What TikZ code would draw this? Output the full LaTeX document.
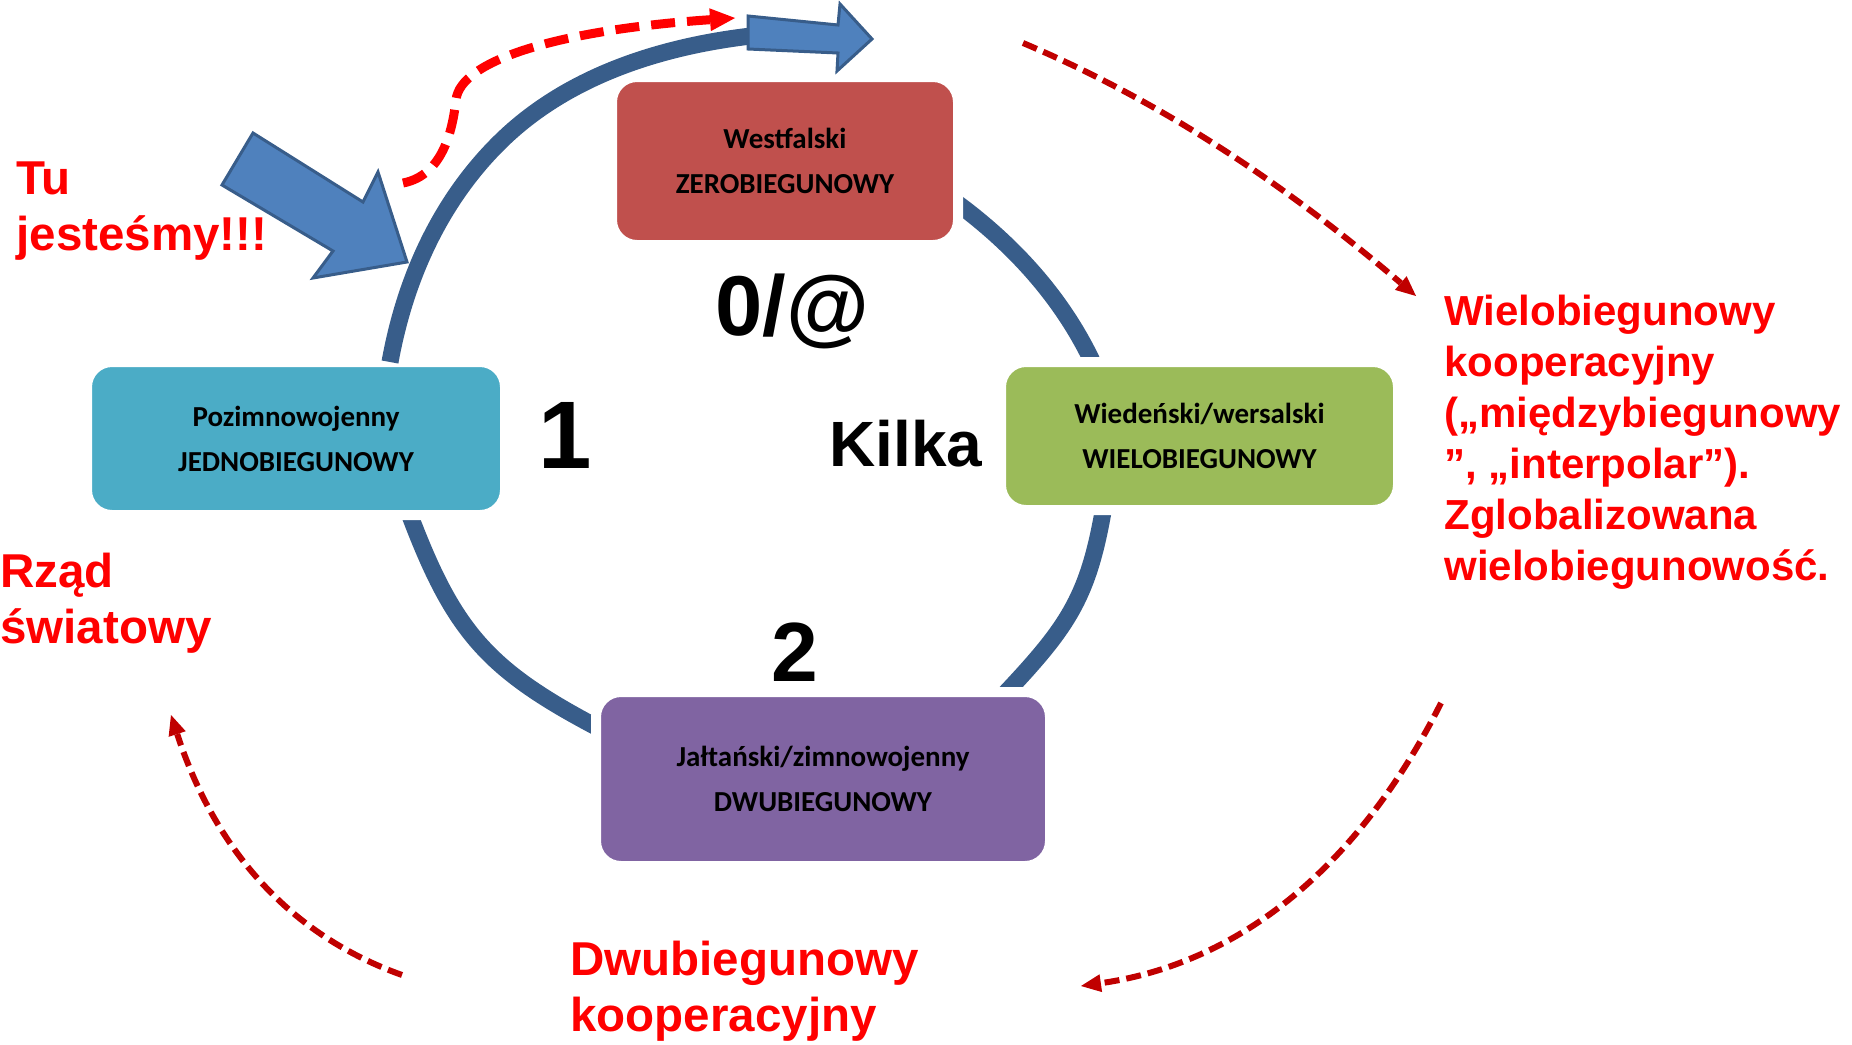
\documentclass[tikz,border=0pt]{standalone}
\usepackage{fontspec}
\setmainfont{Liberation Sans}
\newfontfamily\boxfont{Carlito}
\usetikzlibrary{arrows.meta}
\definecolor{arcblue}{RGB}{56,93,138}
\definecolor{arrowblue}{RGB}{79,129,189}
\definecolor{westred}{RGB}{192,80,77}
\definecolor{wiedgreen}{RGB}{155,187,89}
\definecolor{jaltapurple}{RGB}{128,100,162}
\definecolor{pozimcyan}{RGB}{75,172,198}
\definecolor{darkred}{RGB}{192,0,0}
\tikzstyle{box} = [rounded corners=12.5pt,draw=white,line width=5pt,align=center,text=black,
  font=\boxfont\bfseries\fontsize{14.5}{22.5}\selectfont]
\tikzstyle{cyc} = [draw=arcblue,line width=8.5pt]
\tikzstyle{lbl} = [inner sep=0pt,anchor=base west,align=left,text=red,
  font=\bfseries\fontsize{23.75}{28}\selectfont]
\tikzstyle{num} = [inner sep=0pt,anchor=base west,text=black]
\tikzstyle{back} = [draw=darkred,line width=3pt,dash pattern=on 7.5pt off 3.5pt,
  -{Triangle[length=10pt,width=9pt,line width=0pt]}]
\tikzstyle{here} = [draw=red,line width=4.5pt,dash pattern=on 12pt off 6pt,
  -{Triangle[length=12.5pt,width=11.5pt,line width=0pt]}]
\tikzstyle{fat} = [fill=arrowblue,draw=arcblue,line width=1.5pt,line join=miter]

\begin{document}
\begin{tikzpicture}[x=0.5pt,y=-0.5pt]
    \useasboundingbox (0,0) rectangle (1852,1044);

    % ends of the arcs, hidden under the white rims of the boxes
    \coordinate (westR)  at (950,198);
    \coordinate (wiedT)  at (1097,372);
    \coordinate (wiedB)  at (1105,500);
    \coordinate (jaltaT) at (999,700);
    \coordinate (jaltaL) at (606,732);
    \coordinate (pozimB) at (406,505);
    \coordinate (pozimT) at (390,362);
    \coordinate (turn)   at (500,142);
    \coordinate (out)    at (760,35);

    % arcs of the cycle
    \draw[cyc] (westR) .. controls (1013,243) and (1066,301) .. (wiedT);
    \draw[cyc] (wiedB) .. controls (1089,599) and (1068,627) .. (jaltaT);
    \draw[cyc] (jaltaL) .. controls (486,670) and (453,632) .. (pozimB);

    % the four orders
    \node[box,fill=westred,minimum width=173pt,minimum height=84pt] (west) at (785,161)
        {Westfalski\\ZEROBIEGUNOWY};
    \node[box,fill=wiedgreen,minimum width=198.5pt,minimum height=74pt] (wied) at (1199.5,436)
        {Wiedeński/wersalski\\WIELOBIEGUNOWY};
    \node[box,fill=jaltapurple,minimum width=227pt,minimum height=87pt] (jalta) at (823,779)
        {Jałtański/zimnowojenny\\DWUBIEGUNOWY};
    \node[box,fill=pozimcyan,minimum width=209pt,minimum height=76.5pt] (pozim) at (296,438.5)
        {Pozimnowojenny\\JEDNOBIEGUNOWY};

    % arc running out of the cycle
    \draw[cyc] (pozimT) .. controls (405,279) and (440,201) .. (turn)
        .. controls (568,75) and (664,45) .. (out);
    \draw[fat] (748,16) -- (838,25) -- (840,4) -- (872,39) -- (837,71) -- (838,53) -- (748,49) -- cycle;
    \draw[fat] (253,133) -- (363,202) -- (378,172) -- (407,262) -- (313,278) -- (333,251) -- (222,185) -- cycle;

    % number of poles
    \node[num,font=\bfseries\fontsize{42.5}{50}\selectfont] (zero) at (715,335) {0/@};
    \node[num,font=\bfseries\fontsize{48}{56}\selectfont] (one) at (538,468) {1};
    \node[num,font=\bfseries\fontsize{32}{38}\selectfont] (kilka) at (829,466) {Kilka};
    \node[num,font=\bfseries\fontsize{42}{50}\selectfont] (two) at (771,681) {2};

    % red labels (base = last line)
    \node[lbl] (tu) at (16,250) {Tu\\jesteśmy!!!};
    \node[lbl] (rzad) at (0,643) {Rząd\\światowy};
    \node[lbl] (dwu) at (570,1031) {Dwubiegunowy\\kooperacyjny};
    \node[lbl,font=\bfseries\fontsize{21}{25.5}\selectfont] (wielo) at (1444,580)
        {Wielobiegunowy\\kooperacyjny\\(„międzybiegunowy\\”, „interpolar”).\\Zglobalizowana\\wielobiegunowość.};

    % dashed arrows
    \coordinate (hereS) at (403,183);
    \coordinate (hereE) at (735,18);
    \coordinate (nextS) at (1023,43);
    \coordinate (nextE) at (1416,296);
    \coordinate (downS) at (1441,703);
    \coordinate (downE) at (1081,986);
    \coordinate (upS)   at (402,975);
    \coordinate (upE)   at (171,715);
    \draw[here] (hereS) .. controls (445,175) and (453,125) .. (456,100)
        .. controls (460,60) and (560,30) .. (hereE);
    \draw[back] (nextS) .. controls (1170,105) and (1294,192) .. (nextE);
    \draw[back] (downS) .. controls (1364,856) and (1249,962) .. (downE);
    \draw[back] (upS) .. controls (290,935) and (215,850) .. (upE);
\end{tikzpicture}
\end{document}
